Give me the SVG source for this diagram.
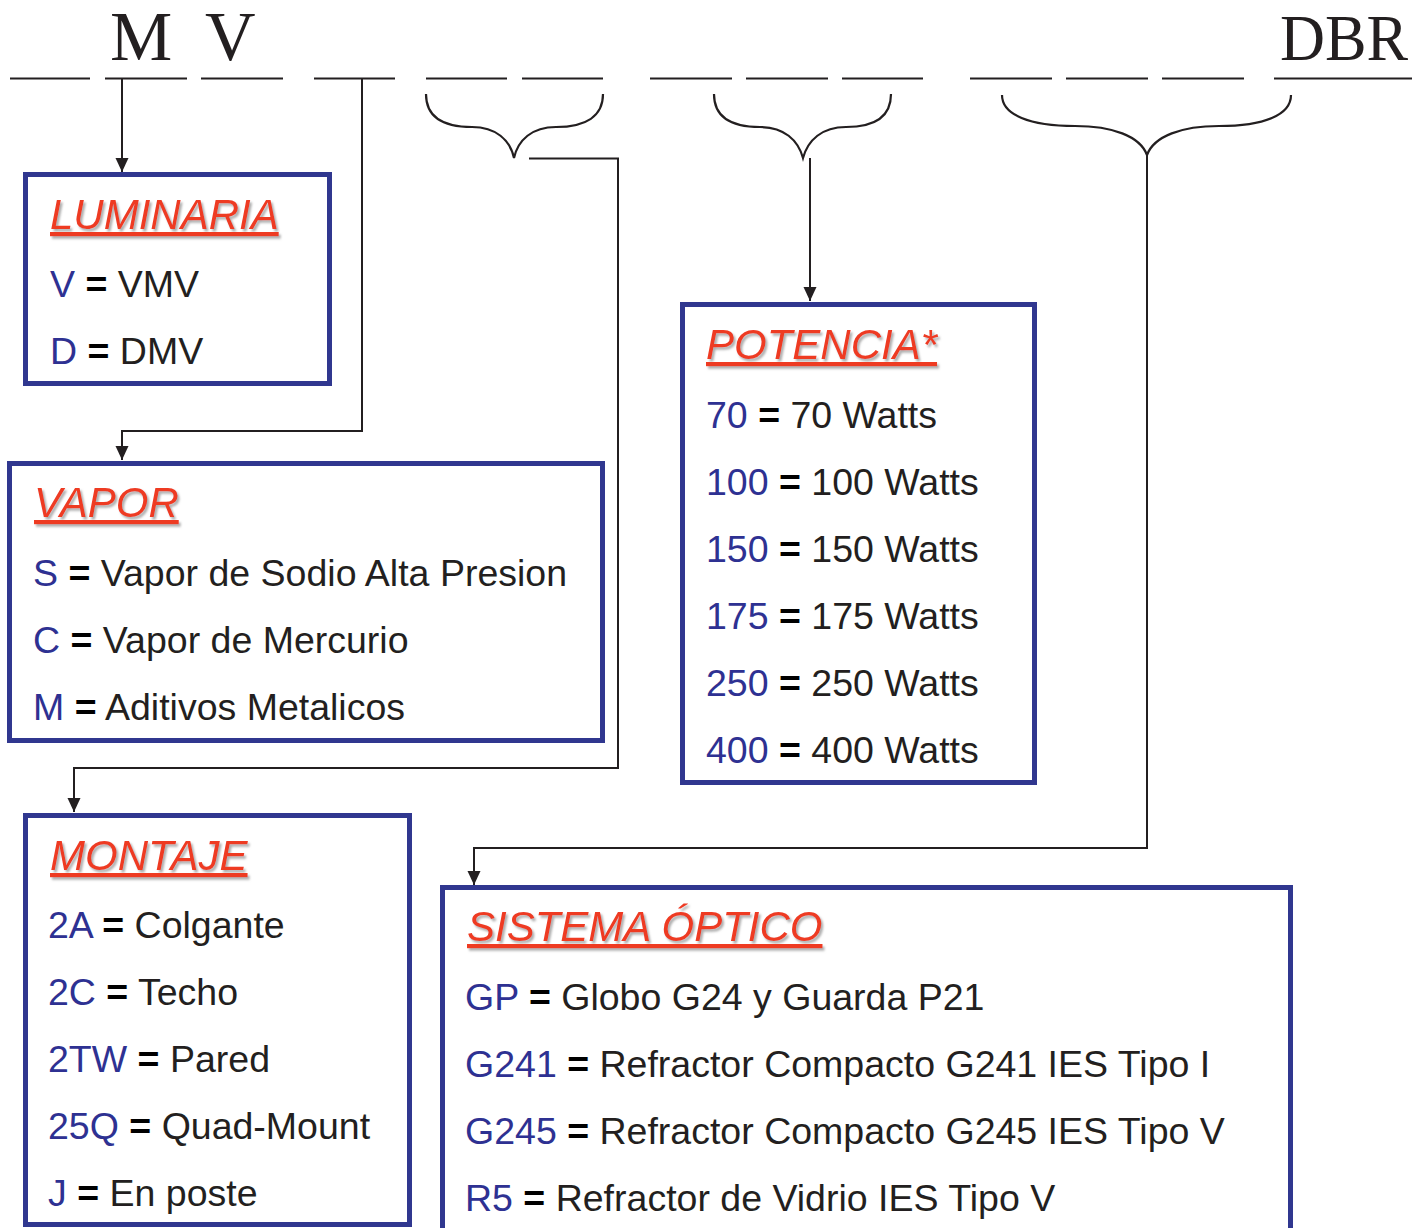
<svg xmlns="http://www.w3.org/2000/svg" width="1412" height="1228" viewBox="0 0 1412 1228">
<defs>
<style>
.hdr{font-family:"Liberation Serif","Times New Roman",serif;fill:#231f20}
.ul{stroke:#231f20;stroke-width:2.2;fill:none}
.brace{stroke:#231f20;stroke-width:2.2;fill:none}
.conn{stroke:#231f20;stroke-width:2;fill:none}
.box{fill:#fff;stroke:#30378f;stroke-width:5}
.title{font-family:"Liberation Sans",Arial,sans-serif;font-size:42px;font-style:italic;fill:#ee3a24;text-decoration:underline;filter:url(#sh)}
.body{font-family:"Liberation Sans",Arial,sans-serif;font-size:37.5px;fill:#231f20}
.code{fill:#2e3192}
.eq{fill:#000;font-weight:bold}
</style>
<filter id="sh" x="-5%" y="-20%" width="115%" height="150%">
<feDropShadow dx="2" dy="2.5" stdDeviation="1" flood-color="#8a8a8a" flood-opacity="0.7"/>
</filter>
<marker id="arr" markerUnits="userSpaceOnUse" markerWidth="16" markerHeight="14" refX="14" refY="6.5" orient="auto">
<path d="M0,0 L14,6.5 L0,13 z" fill="#231f20"/>
</marker>
</defs>
<rect width="1412" height="1228" fill="#fff"/>

<g id="header">
<text class="hdr" x="110" y="60" font-size="70">M</text>
<text class="hdr" x="205" y="60" font-size="70">V</text>
<text class="hdr" x="1280" y="60" font-size="65" textLength="128" lengthAdjust="spacingAndGlyphs">DBR</text>
<path class="ul" d="M10,78.5H90 M105,78.5H187 M201,78.5H283 M314,78.5H395 M426,78.5H507 M522,78.5H603 M650,78.5H732 M746,78.5H828 M842,78.5H923 M970,78.5H1052 M1066,78.5H1148 M1162,78.5H1244 M1274,78.5H1412"/>
</g>

<g id="braces">
<path class="brace" d="M426,94 C426,116 442,127 472,127 C496,127 510,140 514,158 C518,140 532,127 556,127 C586,127 603,116 603,94"/>
<path class="brace" d="M714,94 C714,116 730,127 760,127 C784,127 798,140 803,158 C808,140 822,127 846,127 C876,127 891,116 891,94"/>
<path class="brace" d="M1002,95 C1002,115 1030,126 1075,126 C1112,126 1140,136 1147,155 C1154,136 1182,126 1219,126 C1264,126 1291,115 1291,95"/>
</g>

<g id="connectors">
<path class="conn" d="M122,79 V172" marker-end="url(#arr)"/>
<path class="conn" d="M362,79 V431 H122 V460" marker-end="url(#arr)"/>
<path class="conn" d="M529,158.5 H618 V768 H74 V812" marker-end="url(#arr)"/>
<path class="conn" d="M810,158 V301" marker-end="url(#arr)"/>
<path class="conn" d="M1147,155 V848 H474 V885" marker-end="url(#arr)"/>
</g>

<g id="luminaria">
<rect class="box" x="25.5" y="174.5" width="304" height="209"/>
<text class="title" x="50" y="229">LUMINARIA</text>
<text class="body" x="50" y="297"><tspan class="code">V</tspan> <tspan class="eq">=</tspan> VMV</text>
<text class="body" x="50" y="364"><tspan class="code">D</tspan> <tspan class="eq">=</tspan> DMV</text>
</g>

<g id="vapor">
<rect class="box" x="9.5" y="463.5" width="593" height="277"/>
<text class="title" x="34" y="517">VAPOR</text>
<text class="body" x="33" y="586"><tspan class="code">S</tspan> <tspan class="eq">=</tspan> Vapor de Sodio Alta Presion</text>
<text class="body" x="33" y="653"><tspan class="code">C</tspan> <tspan class="eq">=</tspan> Vapor de Mercurio</text>
<text class="body" x="33" y="720"><tspan class="code">M</tspan> <tspan class="eq">=</tspan> Aditivos Metalicos</text>
</g>

<g id="potencia">
<rect class="box" x="682.5" y="304.5" width="352" height="478"/>
<text class="title" x="706" y="359">POTENCIA*</text>
<text class="body" x="706" y="428"><tspan class="code">70</tspan> <tspan class="eq">=</tspan> 70 Watts</text>
<text class="body" x="706" y="495"><tspan class="code">100</tspan> <tspan class="eq">=</tspan> 100 Watts</text>
<text class="body" x="706" y="562"><tspan class="code">150</tspan> <tspan class="eq">=</tspan> 150 Watts</text>
<text class="body" x="706" y="629"><tspan class="code">175</tspan> <tspan class="eq">=</tspan> 175 Watts</text>
<text class="body" x="706" y="696"><tspan class="code">250</tspan> <tspan class="eq">=</tspan> 250 Watts</text>
<text class="body" x="706" y="763"><tspan class="code">400</tspan> <tspan class="eq">=</tspan> 400 Watts</text>
</g>

<g id="montaje">
<rect class="box" x="25.5" y="815.5" width="384" height="409"/>
<text class="title" x="50" y="870">MONTAJE</text>
<text class="body" x="48" y="938"><tspan class="code">2A</tspan> <tspan class="eq">=</tspan> Colgante</text>
<text class="body" x="48" y="1005"><tspan class="code">2C</tspan> <tspan class="eq">=</tspan> Techo</text>
<text class="body" x="48" y="1072"><tspan class="code">2TW</tspan> <tspan class="eq">=</tspan> Pared</text>
<text class="body" x="48" y="1139"><tspan class="code">25Q</tspan> <tspan class="eq">=</tspan> Quad-Mount</text>
<text class="body" x="48" y="1206"><tspan class="code">J</tspan> <tspan class="eq">=</tspan> En poste</text>
</g>

<g id="sistema-optico">
<rect class="box" x="442.5" y="887.5" width="848" height="350"/>
<text class="title" x="467" y="941">SISTEMA ÓPTICO</text>
<text class="body" x="465" y="1010"><tspan class="code">GP</tspan> <tspan class="eq">=</tspan> Globo G24 y Guarda P21</text>
<text class="body" x="465" y="1077"><tspan class="code">G241</tspan> <tspan class="eq">=</tspan> Refractor Compacto G241 IES Tipo I</text>
<text class="body" x="465" y="1144"><tspan class="code">G245</tspan> <tspan class="eq">=</tspan> Refractor Compacto G245 IES Tipo V</text>
<text class="body" x="465" y="1211"><tspan class="code">R5</tspan> <tspan class="eq">=</tspan> Refractor de Vidrio IES Tipo V</text>
</g>
</svg>
